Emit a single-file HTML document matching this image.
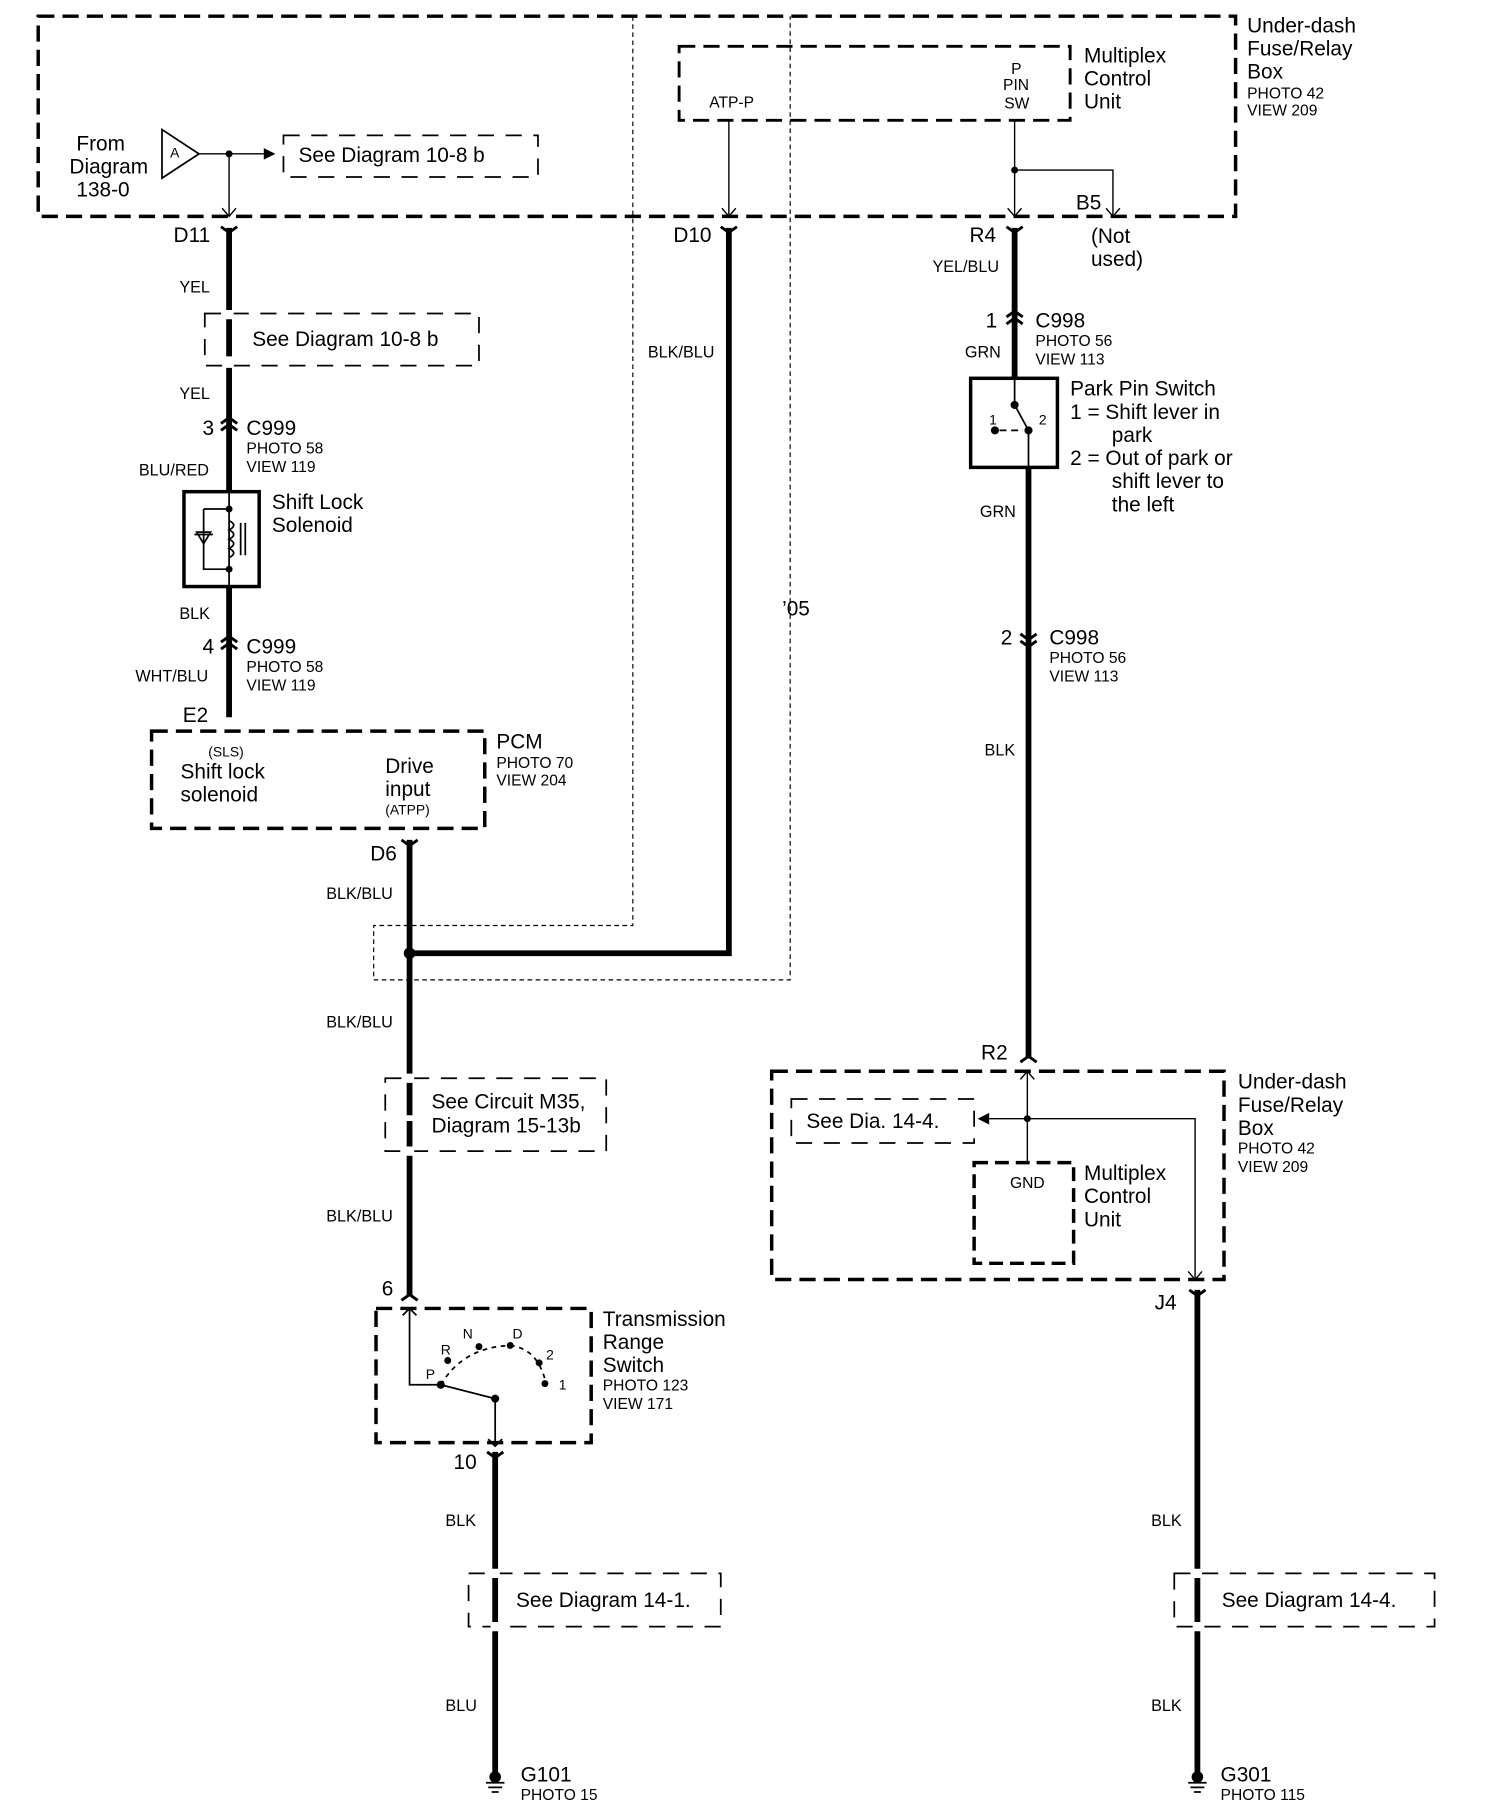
<!DOCTYPE html>
<html><head><meta charset="utf-8"><style>
html,body{margin:0;padding:0;background:#fff}
svg{display:block}
text{font-family:"Liberation Sans",sans-serif;fill:#000}
.b{font-size:18px}.s{font-size:13.5px}.w{font-size:14px}
</style></head><body>
<svg width="1504" height="1814" viewBox="0 0 1300 1568" xmlns="http://www.w3.org/2000/svg">
<g fill="none" stroke="#000">
<!-- top dashed box -->
<rect x="33" y="14" width="1035" height="173" stroke-width="3" stroke-dasharray="14,7"/>
<!-- thin dotted outline -->
<path d="M547 14 V800 H323 V847 H683 V14" stroke-width="1" stroke-dasharray="4,3"/>
<!-- multiplex unit top -->
<rect x="587" y="40" width="338" height="64" stroke-width="2.5" stroke-dasharray="14,7"/>
<!-- see diagram boxes -->
<rect x="245" y="117" width="220" height="36" stroke-width="1.5" stroke-dasharray="14,10"/>
<rect x="177" y="271" width="237" height="45" stroke-width="1.5" stroke-dasharray="14,10"/>
<rect x="333" y="932" width="191" height="63" stroke-width="1.5" stroke-dasharray="14,10"/>
<rect x="405" y="1360" width="218" height="46" stroke-width="1.5" stroke-dasharray="14,10"/>
<rect x="1015" y="1360" width="225" height="46" stroke-width="1.5" stroke-dasharray="14,10"/>
<rect x="684" y="950" width="158" height="38" stroke-width="1.5" stroke-dasharray="14,10"/>
<!-- PCM -->
<rect x="131" y="632" width="288" height="84" stroke-width="3" stroke-dasharray="14,7"/>
<!-- trans range -->
<rect x="325" y="1131" width="186" height="116" stroke-width="3" stroke-dasharray="14,7"/>
<!-- lower right box -->
<rect x="667" y="926" width="391" height="180" stroke-width="3" stroke-dasharray="14,7"/>
<rect x="842" y="1005" width="86" height="87" stroke-width="3" stroke-dasharray="12,6"/>
<!-- solenoid box -->
<rect x="159" y="425" width="65" height="82" stroke-width="3"/>
<!-- park pin box -->
<rect x="839" y="327" width="75" height="77" stroke-width="3"/>

<!-- thin wires -->
<path d="M172 133 H228 M198 133 V187 M630 104 V187 M877 104 V187 M877 147 H962 V187 M888 1005 V967 M855 967 H1033 V1106 M888 967 V926" stroke-width="1.2"/>
<path d="M192 180 L198 187 L204 180 M624 180 L630 187 L636 180 M871 180 L877 187 L883 180 M956 180 L962 187 L968 180 M1027 1099 L1033 1106 L1039 1099 M882 933 L888 926 L894 933" stroke-width="1.2"/>
<!-- triangle A -->
<path d="M140 112 L172 133 L140 154 Z" stroke-width="1.5"/>

<!-- thick wires -->
<g stroke-width="5">
<path d="M198 197 V425 M198 507 V620"/>
<path d="M630 197 V824 H354"/>
<path d="M354 726 V1120"/>
<path d="M877 197 V327 M889 404 V915"/>
<path d="M428 1255 V1540"/>
<path d="M1035 1115 V1540"/>
</g>
<!-- connector caps -->
<g stroke-width="2.5">
<path d="M191 196 L198 201 L205 196 M623 196 L630 201 L637 196 M870 196 L877 201 L884 196 M347 726 L354 731 L361 726 M421 1255 L428 1260 L435 1255 M1028 1115 L1035 1120 L1042 1115"/>
<path d="M191 366 L198 361 L205 366 M191 372 L198 367 L205 372 M191 555 L198 550 L205 555 M191 561 L198 556 L205 561 M870 274 L877 269 L884 274 M870 280 L877 275 L884 280 M882 548 L889 553 L896 548 M882 554 L889 559 L896 554 M882 918 L889 913 L896 918 M347 1124 L354 1119 L361 1124"/>
</g>
<!-- section gaps on wires through see boxes -->
<g stroke="#fff" stroke-width="8">
<path d="M198 268 V276 M198 308 V318 M354 928 V936 M354 964 V969 M354 991 V999 M428 1356 V1364 M428 1402 V1410 M1035 1356 V1364 M1035 1402 V1410"/>
</g>
<!-- solenoid internals -->
<path d="M198 425 V507 M176 440 H198 M176 440 V492 H198" stroke-width="1.5"/>
<path d="M168 462 H184 M176 470 L170 460 H182 Z" stroke-width="1.5"/>
<path d="M198 450 q8 4 0 8 q8 4 0 8 q8 4 0 8 q8 4 0 8 M208 452 V480 M212 452 V480" stroke-width="1.5"/>
<!-- park switch internals -->
<path d="M877 327 V350 L889 372 M889 372 V404 M860 372 H884" stroke-width="1.5"/>
<path d="M860 372 H884" stroke="#fff" stroke-width="2" stroke-dasharray="4,6"/>
<!-- trans switch internals -->
<path d="M354 1131 V1197 H381 L428 1209 V1250 M348 1137 L354 1131 L360 1137 M422 1244 L428 1250 L434 1244" stroke-width="1.5"/>
<path d="M381 1197 Q400 1165 440 1163 Q465 1165 472 1196" stroke-width="1.5" stroke-dasharray="4,4"/>
</g>
<g fill="#000">
<path d="M228 128 L238 133 L228 138 Z"/>
<path d="M855 962 L845 967 L855 972 Z"/>
<circle cx="198" cy="133" r="3"/><circle cx="877" cy="147" r="3"/><circle cx="354" cy="824" r="5"/><circle cx="888" cy="967" r="3"/>
<circle cx="198" cy="440" r="3"/><circle cx="198" cy="492" r="3"/>
<circle cx="877" cy="350" r="3.5"/><circle cx="889" cy="372" r="3.5"/><circle cx="860" cy="372" r="3.5"/>
<circle cx="381" cy="1197" r="3.5"/><circle cx="428" cy="1209" r="3.5"/><circle cx="387" cy="1176" r="3"/><circle cx="414" cy="1164" r="3"/><circle cx="441" cy="1163" r="3"/><circle cx="466" cy="1178" r="3"/><circle cx="471" cy="1196" r="3"/>
</g>
<!-- grounds -->
<g stroke="#000" stroke-width="1.5">
<path d="M420 1541 H436 M422 1545 H434 M425 1549 H431 M1027 1541 H1043 M1029 1545 H1041 M1032 1549 H1038"/>
</g>
<circle cx="428" cy="1536" r="5"/><circle cx="1035" cy="1536" r="5"/>

<!-- texts -->
<g class="b">
<text x="66" y="130">From</text><text x="60" y="150">Diagram</text><text x="66" y="170">138-0</text>
<text x="258" y="140">See Diagram 10-8 b</text>
<text x="937" y="54">Multiplex</text><text x="937" y="74">Control</text><text x="937" y="94">Unit</text>
<text x="1078" y="28">Under-dash</text><text x="1078" y="48">Fuse/Relay</text><text x="1078" y="68">Box</text>
<text x="150" y="209">D11</text><text x="582" y="209">D10</text><text x="838" y="209">R4</text><text x="930" y="181">B5</text>
<text x="943" y="210">(Not</text><text x="943" y="230">used)</text>
<text x="218" y="299">See Diagram 10-8 b</text>
<text x="175" y="376">3</text><text x="213" y="376">C999</text>
<text x="235" y="440">Shift Lock</text><text x="235" y="460">Solenoid</text>
<text x="175" y="565">4</text><text x="213" y="565">C999</text>
<text x="158" y="624">E2</text>
<text x="156" y="673">Shift lock</text><text x="156" y="693">solenoid</text>
<text x="333" y="668">Drive</text><text x="333" y="688">input</text>
<text x="429" y="647">PCM</text>
<text x="320" y="744">D6</text>
<text x="676" y="532">’05</text>
<text x="373" y="958">See Circuit M35,</text><text x="373" y="979">Diagram 15-13b</text>
<text x="330" y="1120">6</text>
<text x="521" y="1146">Transmission</text><text x="521" y="1166">Range</text><text x="521" y="1186">Switch</text>
<text x="392" y="1270">10</text>
<text x="446" y="1389">See Diagram  14-1.</text>
<text x="450" y="1540">G101</text>
<text x="852" y="283">1</text><text x="895" y="283">C998</text>
<text x="925" y="342">Park Pin Switch</text>
<text x="925" y="362">1 =  Shift lever in</text><text x="961" y="382">park</text>
<text x="925" y="402">2 =  Out of park or</text><text x="961" y="422">shift lever to</text><text x="961" y="442">the left</text>
<text x="865" y="557">2</text><text x="907" y="557">C998</text>
<text x="848" y="916">R2</text>
<text x="1070" y="941">Under-dash</text><text x="1070" y="961">Fuse/Relay</text><text x="1070" y="981">Box</text>
<text x="697" y="975">See Dia. 14-4.</text>
<text x="937" y="1020">Multiplex</text><text x="937" y="1040">Control</text><text x="937" y="1060">Unit</text>
<text x="998" y="1132">J4</text>
<text x="1056" y="1389">See Diagram   14-4.</text>
<text x="1055" y="1540">G301</text>
</g>
<g class="s">
<text x="613" y="93">ATP-P</text>
<text x="874" y="64">P</text><text x="867" y="78">PIN</text><text x="868" y="94">SW</text>
<text x="1078" y="85">PHOTO 42</text><text x="1078" y="100">VIEW 209</text>
<text x="147" y="136" font-size="12">A</text>
<text x="213" y="392">PHOTO 58</text><text x="213" y="408">VIEW 119</text>
<text x="213" y="581">PHOTO 58</text><text x="213" y="597">VIEW 119</text>
<text x="180" y="654" font-size="12">(SLS)</text><text x="333" y="704" font-size="12">(ATPP)</text>
<text x="429" y="664">PHOTO 70</text><text x="429" y="679">VIEW 204</text>
<text x="895" y="299">PHOTO 56</text><text x="895" y="315">VIEW 113</text>
<text x="907" y="573">PHOTO 56</text><text x="907" y="589">VIEW 113</text>
<text x="855" y="367" font-size="12">1</text><text x="898" y="367" font-size="12">2</text>
<text x="521" y="1202">PHOTO 123</text><text x="521" y="1218">VIEW 171</text>
<text x="368" y="1192" font-size="12">P</text><text x="381" y="1171" font-size="12">R</text><text x="400" y="1157" font-size="12">N</text><text x="443" y="1157" font-size="12">D</text><text x="472" y="1175" font-size="12">2</text><text x="483" y="1201" font-size="12">1</text>
<text x="873" y="1027">GND</text>
<text x="1070" y="997">PHOTO 42</text><text x="1070" y="1013">VIEW 209</text>
<text x="450" y="1556">PHOTO 15</text><text x="1055" y="1556">PHOTO 115</text>
</g>
<g class="w">
<text x="155" y="253">YEL</text><text x="155" y="345">YEL</text>
<text x="120" y="411">BLU/RED</text><text x="155" y="535">BLK</text><text x="117" y="589">WHT/BLU</text>
<text x="560" y="309">BLK/BLU</text>
<text x="282" y="777">BLK/BLU</text><text x="282" y="888">BLK/BLU</text><text x="282" y="1056">BLK/BLU</text>
<text x="385" y="1319">BLK</text><text x="385" y="1479">BLU</text>
<text x="806" y="235">YEL/BLU</text><text x="834" y="309">GRN</text><text x="847" y="447">GRN</text><text x="851" y="653">BLK</text>
<text x="995" y="1319">BLK</text><text x="995" y="1479">BLK</text>
</g>
</svg>
</body></html>
